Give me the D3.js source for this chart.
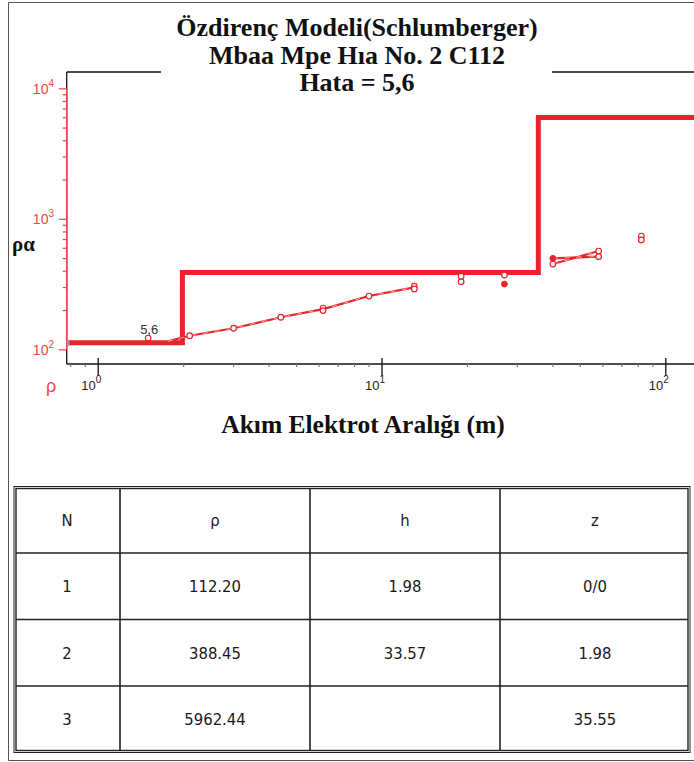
<!DOCTYPE html>
<html>
<head>
<meta charset="utf-8">
<script src="https://cdn.jsdelivr.net/npm/d3@7"></script>
<style>
  body { margin: 0; background: #fff; }
  svg { display: block; }
</style>
</head>
<body>
<svg id="chart" width="694" height="762"></svg>
<script>
// ---- chart data ----
const titleLines = ["Özdirenç Modeli(Schlumberger)", "Mbaa Mpe Hıa No. 2 C112", "Hata = 5,6"];
const xAxisTitle = "Akım Elektrot Aralığı (m)";
const errorLabel = "5,6";

// layered model
const layerN = [1, 2, 3];
const layerRho = [112.20, 388.45, 5962.44];
const layerH = [1.98, 33.57];
const layerZText = ["0/0", "1.98", "35.55"];

// field apparent resistivity (open markers)
const measuredAB  = [1.5, 2.1, 3.0, 4.4, 6.2, 6.2, 9.0, 13, 13, 19, 19, 27, 40, 58, 58, 82, 82];
const measuredRho = [122, 127, 145, 176, 207, 198, 256, 305, 290, 330, 363, 371, 450, 566, 513, 738, 689];
// filled markers
const filledAB  = [27, 40];
const filledRho = [316, 498];

// connected sounding segment
const curveAB  = [1.76, 2.1, 3.0, 4.4, 6.2, 9.0, 13];
const curveRho = [115, 127, 145, 176, 203, 256, 298];
// overlap segments
const branchAB = [40, 58];
const branchUpperRho = [498, 513];
const branchLowerRho = [450, 566];

const yTickValues = [100, 1000, 10000];
const xTickValues = [1, 10, 100];
const tableHeader = ["N", "ρ", "h", "z"];

// ---- drawing ----
const svg = d3.select("#chart");
const RED = "#e8232b";
const AXRED = "#f04646";

const plot = { left: 66.7, top: 72, bottom: 364 };
const x = d3.scaleLog().domain([Math.pow(10, -0.111), Math.pow(10, 2.2)])
  .range([plot.left, plot.left + 283.8 * 2.311]);
const y = d3.scaleLog().domain([Math.pow(10, 1.8874), Math.pow(10, 4.125)])
  .range([plot.bottom, plot.top]);

// page frame
svg.append("path")
  .attr("d", "M694,2.5 H8.5 V760.5 H694")
  .attr("fill", "none").attr("stroke", "#555").attr("stroke-width", 1);

// titles
const titleG = svg.append("g")
  .attr("font-family", "'Liberation Serif', 'Times New Roman', serif")
  .attr("font-weight", "bold").attr("font-size", 26).attr("fill", "#111")
  .attr("text-anchor", "middle");
titleLines.forEach((t, i) => {
  titleG.append("text").attr("x", 357).attr("y", 36 + i * 27.5).text(t);
});

// plot frame: top border with a gap under the title, left border, bottom axis line
svg.append("g").attr("stroke", "#111").attr("stroke-width", 1.3).attr("fill", "none")
  .call(g => {
    g.append("line").attr("x1", plot.left).attr("x2", 161).attr("y1", plot.top).attr("y2", plot.top);
    g.append("line").attr("x1", 552).attr("x2", 694).attr("y1", plot.top).attr("y2", plot.top);
    g.append("line").attr("x1", plot.left).attr("x2", plot.left).attr("y1", plot.top).attr("y2", plot.bottom);
    g.append("line").attr("x1", plot.left).attr("x2", 694).attr("y1", plot.bottom).attr("y2", plot.bottom);
  });

// y axis (red, log)
const yAxis = d3.axisLeft(y)
  .tickValues(d3.range(2, 4).flatMap(e => d3.range(1, 10).map(m => m * Math.pow(10, e))).concat([10000]))
  .tickSize(4).tickFormat("");
const yG = svg.append("g").attr("transform", `translate(${plot.left},0)`).call(yAxis);
yG.select(".domain").remove();
yG.selectAll(".tick line").attr("stroke", AXRED).attr("stroke-width", 1.2)
  .attr("x2", d => yTickValues.includes(d) ? -8 : -4);
svg.append("line").attr("x1", plot.left).attr("x2", plot.left)
  .attr("y1", y(yTickValues[2])).attr("y2", y(yTickValues[0]))
  .attr("stroke", AXRED).attr("stroke-width", 1.4);
yTickValues.forEach(v => {
  const t = svg.append("text").attr("x", 54).attr("y", y(v) + 5.5)
    .attr("text-anchor", "end").attr("fill", AXRED)
    .attr("font-family", "'Liberation Sans', Arial, sans-serif").attr("font-size", 14);
  t.append("tspan").text("10");
  t.append("tspan").attr("dy", -7).attr("font-size", 10).text(Math.round(Math.log10(v)));
});

// x axis (black, log)
const minorX = d3.range(-1, 3).flatMap(e => d3.range(2, 10).map(m => m * Math.pow(10, e)))
  .filter(v => v > x.domain()[0] && v < x.domain()[1] && !xTickValues.includes(v));
svg.append("g").selectAll("line").data(minorX).join("line")
  .attr("x1", d => x(d)).attr("x2", d => x(d))
  .attr("y1", plot.bottom).attr("y2", plot.bottom + 3)
  .attr("stroke", "#777").attr("stroke-width", 1.2);
svg.append("g").selectAll("line").data(xTickValues).join("line")
  .attr("x1", d => x(d)).attr("x2", d => x(d))
  .attr("y1", plot.bottom - 6).attr("y2", plot.bottom + 12)
  .attr("stroke", "#111").attr("stroke-width", 1.3);
xTickValues.forEach(v => {
  svg.append("text").attr("x", x(v) - 2.5).attr("y", 390)
    .attr("fill", "#222").attr("font-family", "'Liberation Sans', Arial, sans-serif")
    .attr("font-size", 13).attr("text-anchor", "end").text("10");
  svg.append("text").attr("x", x(v) - 2.5).attr("y", 383)
    .attr("fill", "#222").attr("font-family", "'Liberation Sans', Arial, sans-serif")
    .attr("font-size", 10).text(Math.round(Math.log10(v)));
});

// axis symbols
svg.append("text").attr("x", 46).attr("y", 392).attr("fill", AXRED)
  .attr("font-family", "'Liberation Sans', Arial, sans-serif").attr("font-size", 18).text("ρ");
svg.append("text").attr("x", 12).attr("y", 251).attr("fill", "#111")
  .attr("font-family", "'Liberation Serif', serif").attr("font-weight", "bold")
  .attr("font-size", 21).text("ρα");

// x axis title
svg.append("text").attr("x", 363).attr("y", 433).attr("text-anchor", "middle")
  .attr("font-family", "'Liberation Serif', 'Times New Roman', serif")
  .attr("font-weight", "bold").attr("font-size", 25.5).attr("fill", "#111").text(xAxisTitle);

// model step line
const depths = d3.cumsum(layerH);
const xLeft = x.domain()[0], xRight = x.domain()[1];
const modelPts = [[xLeft, layerRho[0]]];
depths.forEach((d, i) => { modelPts.push([d, layerRho[i]]); modelPts.push([d, layerRho[i + 1]]); });
modelPts.push([xRight, layerRho[layerRho.length - 1]]);
const line = d3.line().x(d => x(d[0])).y(d => y(d[1]));

svg.append("clipPath").attr("id", "plotclip")
  .append("rect").attr("x", plot.left).attr("y", plot.top)
  .attr("width", 694 - plot.left).attr("height", plot.bottom - plot.top);

const pg = svg.append("g").attr("clip-path", "url(#plotclip)");

// open marker partly beneath the model line
pg.append("circle").attr("cx", x(measuredAB[0])).attr("cy", y(measuredRho[0])).attr("r", 2.8)
  .attr("fill", "#fff").attr("stroke", RED).attr("stroke-width", 1.2);

pg.append("path").attr("d", line(modelPts)).attr("fill", "none")
  .attr("stroke", RED).attr("stroke-width", 5).attr("stroke-linejoin", "miter");

// left end marker
pg.append("rect").attr("x", plot.left).attr("y", y(layerRho[0]) - 3).attr("width", 3).attr("height", 6)
  .attr("fill", "#999");

// sounding segments
const seg = (xs, ys) => line(xs.map((v, i) => [v, ys[i]]));
[[curveAB, curveRho], [branchAB, branchUpperRho], [branchAB, branchLowerRho]].forEach(([xs, ys]) => {
  pg.append("path").attr("d", seg(xs, ys)).attr("fill", "none")
    .attr("stroke", RED).attr("stroke-width", 2.2);
  pg.append("path").attr("d", seg(xs, ys)).attr("fill", "none")
    .attr("stroke", "#fff").attr("stroke-width", 0.6).attr("stroke-dasharray", "5,7");
});

// markers
pg.append("g").selectAll("circle").data(measuredAB.slice(1).map((v, i) => [v, measuredRho[i + 1]]))
  .join("circle").attr("cx", d => x(d[0])).attr("cy", d => y(d[1])).attr("r", 2.8)
  .attr("fill", "#fff").attr("stroke", RED).attr("stroke-width", 1.2);
pg.append("g").selectAll("circle").data(filledAB.map((v, i) => [v, filledRho[i]]))
  .join("circle").attr("cx", d => x(d[0])).attr("cy", d => y(d[1])).attr("r", 2.9)
  .attr("fill", RED).attr("stroke", RED).attr("stroke-width", 1);

// layer boundary handles
pg.append("g").selectAll("rect").data(depths.map((d, i) => [d, layerRho[i + 1]]))
  .join("rect").attr("x", d => x(d[0]) - 3.5).attr("y", d => y(d[1]) - 3.5)
  .attr("width", 7).attr("height", 7)
  .attr("fill", "#f2ee10").attr("stroke", "#888").attr("stroke-width", 1.2);

// error label
svg.append("text").attr("x", x(measuredAB[0]) + 1).attr("y", y(measuredRho[0]) - 4)
  .attr("text-anchor", "middle").attr("font-family", "'Liberation Sans', Arial, sans-serif")
  .attr("font-size", 13).attr("fill", "#333").text(errorLabel);

// ---- parameter table ----
const tbl = { left: 14, right: 690, top: 486.5, rowH: 66.5, cols: [14, 120, 310, 500, 690] };
const rows = [tableHeader].concat(layerN.map((n, i) => [
  String(n), layerRho[i].toFixed(2), i < layerH.length ? layerH[i].toFixed(2) : "", layerZText[i]
]));
const tg = svg.append("g");
tg.append("rect").attr("x", tbl.left).attr("y", tbl.top)
  .attr("width", tbl.right - tbl.left).attr("height", tbl.rowH * rows.length)
  .attr("fill", "none").attr("stroke", "#222").attr("stroke-width", 1);
tg.append("rect").attr("x", tbl.left + 2).attr("y", tbl.top + 2)
  .attr("width", tbl.right - tbl.left - 4).attr("height", tbl.rowH * rows.length - 4)
  .attr("fill", "none").attr("stroke", "#222").attr("stroke-width", 1.4);
d3.range(1, rows.length).forEach(r => {
  tg.append("line").attr("x1", tbl.left + 2).attr("x2", tbl.right - 2)
    .attr("y1", tbl.top + r * tbl.rowH).attr("y2", tbl.top + r * tbl.rowH)
    .attr("stroke", "#222").attr("stroke-width", 1.6);
});
tbl.cols.slice(1, -1).forEach(cx => {
  tg.append("line").attr("x1", cx).attr("x2", cx)
    .attr("y1", tbl.top + 2).attr("y2", tbl.top + tbl.rowH * rows.length - 2)
    .attr("stroke", "#222").attr("stroke-width", 1.6);
});
rows.forEach((row, r) => {
  row.forEach((cell, c) => {
    tg.append("text")
      .attr("x", (tbl.cols[c] + tbl.cols[c + 1]) / 2)
      .attr("y", tbl.top + r * tbl.rowH + tbl.rowH / 2 + 6)
      .attr("text-anchor", "middle")
      .attr("font-family", "'DejaVu Sans Condensed', 'DejaVu Sans', sans-serif")
      .attr("font-size", 16.5).attr("fill", "#1a1a1a").text(cell);
  });
});
</script>
</body>
</html>
